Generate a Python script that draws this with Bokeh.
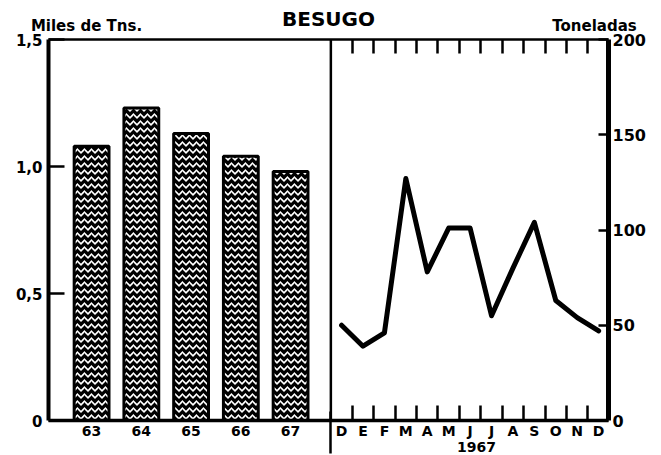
from bokeh.plotting import figure
from bokeh.models import (Range1d, LinearAxis, FixedTicker, CustomJSTickFormatter, Span)
from bokeh.embed import file_html
from bokeh.resources import INLINE

# ---- data ----
years = [63, 64, 65, 66, 67]
year_labels = ["63", "64", "65", "66", "67"]
annual_thousand_t = [1.08, 1.23, 1.13, 1.04, 0.98]

months = ["D", "E", "F", "M", "A", "M", "J", "J", "A", "S", "O", "N", "D"]
monthly_tons = [50, 39, 46, 127, 78, 101, 101, 55, 80, 104, 63, 54, 47]
month_year = "1967"

left_ticks = [0, 0.5, 1.0, 1.5]
right_ticks = [0, 50, 100, 150, 200]

title_text = "BESUGO"
left_unit = "Miles de Tns."
right_unit = "Toneladas"

FONT = "DejaVu Sans"

# ---- layout ----
W, H = 661, 455
FL, FR, FT, FB = 48, 608, 39, 420          # frame edges in px
x0, x1 = 62.134, 73.39                     # bar (year) range
m0, m1 = -13.68, 12.46                     # month range

p = figure(width=W, height=H, output_backend="svg", toolbar_location=None,
           x_range=Range1d(x0, x1), y_range=Range1d(0, 1.5),
           x_axis_location=None, y_axis_location=None,
           min_border_left=FL, min_border_right=W - FR, min_border_top=FT,
           min_border_bottom=H - FB)
p.extra_x_ranges = {"m": Range1d(m0, m1)}
p.extra_y_ranges = {"t": Range1d(0, 200)}
p.grid.grid_line_color = None
p.outline_line_color = None
p.background_fill_color = "white"
p.border_fill_color = "white"
p.title.text = ""


def year_to_m(v):
    return m0 + (v - x0) * (m1 - m0) / (x1 - x0)


def px_to_m(px):
    return m0 + (px - FL) * (m1 - m0) / (FR - FL)


# bars
p.vbar(x=years, top=annual_thousand_t, bottom=0, width=0.7,
       fill_color="black", line_color="black", line_width=3,
       hatch_pattern="horizontal_wave", hatch_color="white",
       hatch_scale=7, hatch_weight=1.6)

# monthly line
month_idx = list(range(len(months)))
p.line(x=month_idx, y=monthly_tons, x_range_name="m", y_range_name="t",
       line_color="black", line_width=5, line_join="round", line_cap="round")

bounds = [i + 0.5 for i in range(len(months) - 1)]
divider = -0.5

p.add_layout(Span(location=divider, dimension="height", x_range_name="m",
                  line_color="black", line_width=2.5))

lookup_code = """
for (let k = 0; k < pos.length; k++) {
  if (Math.abs(pos[k] - tick) < 1e-6) return labs[k];
}
return '';
"""


def text_axis(pos, labs, size, standoff, style="bold", **kw):
    return LinearAxis(x_range_name="m",
                      ticker=FixedTicker(ticks=pos, minor_ticks=[]),
                      formatter=CustomJSTickFormatter(args=dict(pos=pos, labs=labs), code=lookup_code),
                      axis_line_color=None, major_tick_line_color=None,
                      minor_tick_line_color=None, major_label_standoff=standoff,
                      major_label_text_font=FONT, major_label_text_font_style=style,
                      major_label_text_font_size=size, major_label_text_color="black", **kw)


# left axis
left = LinearAxis(ticker=FixedTicker(ticks=left_ticks),
                  formatter=CustomJSTickFormatter(code="return tick == 0 ? '0' : tick.toFixed(1).replace('.', ',');"),
                  axis_line_width=4, major_tick_in=16, major_tick_out=0,
                  major_tick_line_width=2.5, minor_tick_line_color=None,
                  major_label_standoff=6, major_label_text_font=FONT,
                  major_label_text_font_style="bold",
                  major_label_text_font_size="15px", major_label_text_color="black")
p.add_layout(left, "left")

# right axis
right = LinearAxis(y_range_name="t", ticker=FixedTicker(ticks=right_ticks),
                   axis_line_width=5, major_tick_in=10, major_tick_out=0,
                   major_tick_line_width=2.5, minor_tick_line_color=None,
                   major_label_standoff=4, major_label_text_font=FONT,
                   major_label_text_font_style="bold",
                   major_label_text_font_size="16px", major_label_text_color="black")
p.add_layout(right, "right")

# top border with month-boundary ticks
top = LinearAxis(x_range_name="m", ticker=FixedTicker(ticks=bounds, minor_ticks=[]),
                 formatter=CustomJSTickFormatter(code="return '';"),
                 axis_line_width=2.5, major_tick_in=14, major_tick_out=0,
                 major_tick_line_width=2.5, minor_tick_line_color=None,
                 major_label_text_font_size="0px", major_label_standoff=0)
p.add_layout(top, "above")

# unit labels above the frame
unit_pos = [px_to_m(86), px_to_m(594)]
p.add_layout(text_axis(unit_pos, [left_unit, right_unit], "15px", -1), "above")

# title
title_pos = [px_to_m((FL + FR) / 2)]
p.add_layout(text_axis(title_pos, [title_text], "20px", -23), "above")

# bottom axis: year labels under bars + month labels, boundary ticks
bot_pos = [year_to_m(y) for y in years] + month_idx
bot_labs = year_labels + months
bottom = LinearAxis(x_range_name="m",
                    ticker=FixedTicker(ticks=bot_pos, minor_ticks=bounds),
                    formatter=CustomJSTickFormatter(args=dict(pos=bot_pos, labs=bot_labs), code=lookup_code),
                    axis_line_width=3.5, major_tick_in=0, major_tick_out=0,
                    minor_tick_in=15, minor_tick_out=0, minor_tick_line_width=2.5,
                    major_label_standoff=2, major_label_text_font=FONT,
                    major_label_text_font_style="bold",
                    major_label_text_font_size="14px", major_label_text_color="black")
p.add_layout(bottom, "below")

# outer bottom axis: "1967" and the divider's extension below the axis
yr_pos = [px_to_m(476)]
bottom2 = text_axis(yr_pos, [month_year], "14px", -12)
bottom2.ticker = FixedTicker(ticks=yr_pos, minor_ticks=[divider])
bottom2.minor_tick_line_color = "black"
bottom2.minor_tick_line_width = 2.5
bottom2.minor_tick_in = 30
bottom2.minor_tick_out = 12
p.add_layout(bottom2, "below")

open("out.html", "w").write(file_html(p, INLINE))
